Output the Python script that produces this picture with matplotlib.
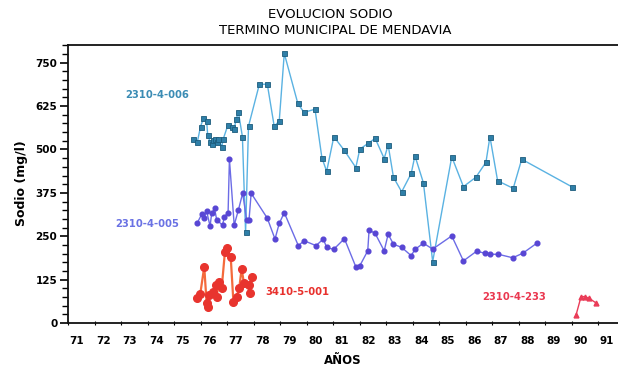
import matplotlib
matplotlib.use("Agg")
import matplotlib.pyplot as plt
import numpy as np

# ---- data ----
years_006 = [75.70, 75.87, 75.99, 76.10, 76.22, 76.26, 76.35, 76.41, 76.47, 76.54,
             76.60, 76.66, 76.79, 76.85, 77.03, 77.17, 77.26, 77.33, 77.42, 77.57,
             77.69, 77.80, 78.21, 78.51, 78.77, 78.96, 79.15, 79.66, 79.89, 80.31,
             80.57, 80.75, 81.02, 81.41, 81.85, 82.00, 82.32, 82.58, 82.92, 83.07,
             83.27, 83.58, 83.94, 84.08, 84.40, 84.75, 85.47, 85.91, 86.38, 86.76,
             86.91, 87.20, 87.79, 88.11, 89.99]
sodio_006 = [530, 522, 566, 590, 582, 542, 522, 516, 527, 531,
             522, 530, 508, 531, 572, 564, 558, 587, 607, 537,
             261, 567, 688, 688, 567, 582, 777, 633, 607, 616,
             476, 437, 537, 498, 448, 501, 518, 532, 474, 513,
             420, 378, 431, 482, 404, 177, 479, 393, 420, 463,
             537, 410, 388, 472, 393]

years_005 = [75.87, 76.04, 76.13, 76.22, 76.35, 76.41, 76.52, 76.60, 76.82, 76.89,
             77.03, 77.08, 77.26, 77.42, 77.58, 77.73, 77.82, 77.90, 78.51, 78.80,
             78.96, 79.15, 79.68, 79.90, 80.35, 80.62, 80.75, 81.01, 81.42, 81.86,
             82.00, 82.30, 82.35, 82.58, 82.92, 83.07, 83.27, 83.58, 83.94, 84.08,
             84.40, 84.75, 85.47, 85.91, 86.41, 86.72, 86.91, 87.23, 87.77, 88.15,
             88.68]
sodio_005 = [289, 314, 303, 322, 279, 316, 330, 297, 282, 306,
             318, 472, 282, 326, 374, 297, 297, 374, 302, 242,
             287, 318, 223, 237, 223, 242, 218, 212, 243, 160,
             165, 208, 268, 258, 208, 256, 227, 218, 194, 212,
             230, 213, 251, 179, 207, 201, 198, 198, 188, 201,
             230]

years_001 = [75.84, 75.98, 76.13, 76.22, 76.28, 76.32, 76.47, 76.57, 76.60, 76.68,
             76.79, 76.91, 77.00, 77.13, 77.23, 77.35, 77.45, 77.54, 77.63, 77.80,
             77.86, 77.92]
sodio_001 = [71, 84, 162, 57, 45, 81, 90, 109, 76, 119,
             102, 205, 215, 189, 61, 76, 100, 156, 114, 109,
             86, 132]

years_233 = [90.16, 90.35, 90.50, 90.66, 90.91]
sodio_233 = [23, 76, 76, 71, 58]

year_ticks = list(range(71, 92))
year_labels = [str(y) for y in year_ticks]
sodio_ticks = [0, 125, 250, 375, 500, 625, 750]

series_labels = ["2310-4-006", "2310-4-005", "3410-5-001", "2310-4-233"]

# ---- figure ----
plt.rcParams['font.family'] = ['DejaVu Sans']
fig = plt.figure(figsize=(6.18, 3.68), dpi=100)
W, H = 618, 368
ax = fig.add_axes([67.7 / W, 1 - 323 / H, (625 - 67.7) / W, (323 - 44.7) / H])

x_lo = 71 + (67.7 - 68.3) / 26.5
x_hi = 71 + (625 - 68.3) / 26.5
ax.set_xlim(x_lo, x_hi)
ax.set_ylim(0, 802)

c006_line = '#5ab2e2'
c006_mark = '#2f7fa8'
c005_line = '#6c6ce6'
c005_mark = '#5846d4'
c001_line = '#f46a3c'
c001_mark = '#e8342e'
c233 = '#ea3c58'

ax.plot(years_006, sodio_006, color=c006_line, lw=1.0, marker='s', ms=3.6,
        mfc=c006_mark, mec='#1d5c7c', mew=0.6, zorder=3)
ax.plot(years_005, sodio_005, color=c005_line, lw=1.0, marker='o', ms=3.4,
        mfc=c005_mark, mec=c005_mark, zorder=4)
ax.plot(years_001, sodio_001, color=c001_line, lw=1.6, marker='o', ms=5.5,
        mfc=c001_mark, mec=c001_mark, zorder=5)
ax.plot(years_233, sodio_233, color=c233, lw=1.0, marker='^', ms=3.5,
        mfc=c233, mec=c233, zorder=5)

lab_kw = dict(fontsize=7.2, fontweight='bold', va='center', ha='left')
ax.text(73.14, 657, series_labels[0], color='#3b8cb4', **lab_kw)
ax.text(72.77, 285, series_labels[1], color='#6a72e4', **lab_kw)
ax.text(78.42, 89, series_labels[2], color='#e8302c', **lab_kw)
ax.text(86.61, 75, series_labels[3], color='#ea3850', **lab_kw)

# spines
for s in ['left', 'bottom', 'top']:
    ax.spines[s].set_linewidth(1.3)
    ax.spines[s].set_color('#111111')
ax.spines['right'].set_visible(False)

# y ticks
ax.set_yticks(sodio_ticks)
ax.set_yticklabels([str(v) for v in sodio_ticks], fontsize=7.5, fontweight='bold')
ax.set_yticks(np.arange(0, 801, 25), minor=True)
ax.tick_params(axis='y', which='major', direction='out', length=6, width=1.2, pad=1.5)
ax.tick_params(axis='y', which='minor', direction='out', length=4, width=1.0)

# x ticks: marks at years, labels slightly right
ax.set_xticks(year_ticks)
ax.set_xticklabels([])
ax.tick_params(axis='x', which='major', direction='inout', length=3, width=0.8)
ax.set_xticks([y + 0.33 for y in year_ticks], minor=True)
ax.set_xticklabels(year_labels, minor=True, fontsize=7.5, fontweight='bold')
ax.tick_params(axis='x', which='minor', length=0, pad=9)

ax.set_ylabel('Sodio (mg/l)', fontsize=9, fontweight='bold', labelpad=4)
ax.yaxis.set_label_coords((28 - 67.7) / (625 - 67.7), (323 - 183) / (323 - 44.7))

fig.text(343 / W, 1 - 360 / H, 'AÑOS', fontsize=8.5, fontweight='bold',
         ha='center', va='center')

fig.text(330 / W, 1 - 14 / H, 'EVOLUCION SODIO', fontsize=9.5,
         ha='center', va='center')
fig.text(335 / W, 1 - 30 / H, 'TERMINO MUNICIPAL DE MENDAVIA', fontsize=9.5,
         ha='center', va='center')

fig.savefig('out.png', dpi=100)
